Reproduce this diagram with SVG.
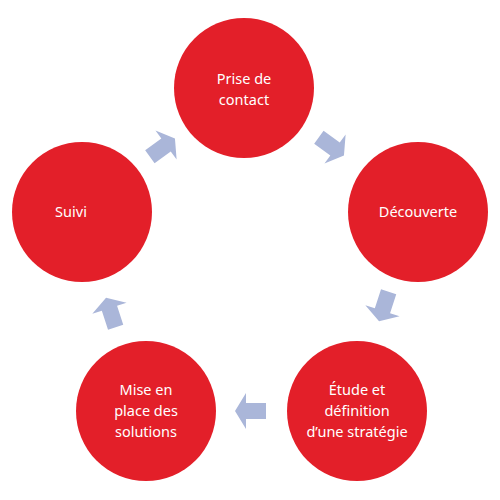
<svg xmlns="http://www.w3.org/2000/svg" width="500" height="500" viewBox="0 0 500 500">
<style>
.n{fill:#e31f29}
.t{fill:#ffffff;font-family:"Noto Sans","Open Sans",sans-serif;font-size:14.5px;text-anchor:middle}
.a{fill:#aab6d9}
</style>
<defs>
<path id="arr" d="M16,0 L5,-18 L5,-8 L-15,-8 L-15,8 L5,8 L5,18 Z"/>
</defs>
<rect width="500" height="500" fill="#ffffff"/>
<g id="connectors">
<use href="#arr" class="a" transform="translate(162,148) rotate(-36)"/>
<use href="#arr" class="a" transform="translate(331,146) rotate(36)"/>
<use href="#arr" class="a" transform="translate(384,306) rotate(108)"/>
<use href="#arr" class="a" transform="translate(251,411) rotate(180)"/>
<use href="#arr" class="a" transform="translate(111,313) rotate(-108)"/>
</g>
<g id="n1"><circle class="n" cx="244" cy="88" r="70"/><text class="t" x="244" y="84">Prise de</text><text class="t" x="244" y="105">contact</text></g>
<g id="n2"><circle class="n" cx="418" cy="212" r="70"/><text class="t" x="418" y="217">Découverte</text></g>
<g id="n3"><circle class="n" cx="357" cy="411" r="70"/><text class="t" x="357" y="395">Étude et</text><text class="t" x="357" y="416">définition</text><text class="t" x="357" y="437">d’une stratégie</text></g>
<g id="n4"><circle class="n" cx="146" cy="411" r="70"/><text class="t" x="146" y="395">Mise en</text><text class="t" x="146" y="416">place des</text><text class="t" x="146" y="437">solutions</text></g>
<g id="n5"><circle class="n" cx="82" cy="212" r="70"/><text class="t" x="71" y="217">Suivi</text></g>
</svg>
